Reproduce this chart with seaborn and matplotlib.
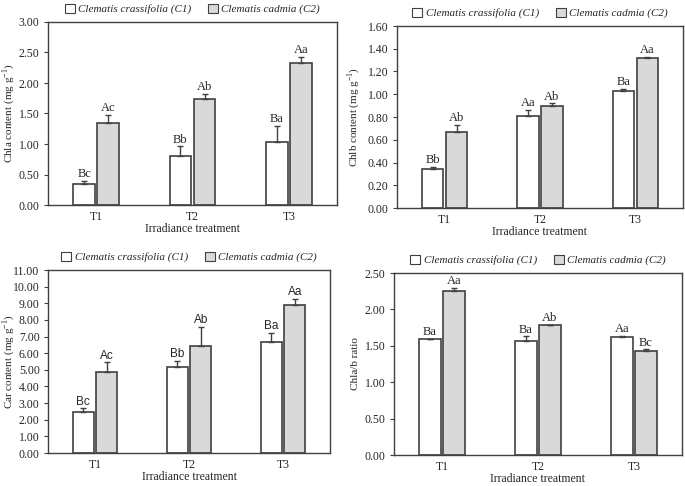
import pandas as pd
import numpy as np
import seaborn as sns
from matplotlib import pyplot as plt
from matplotlib.patches import Patch
from matplotlib.ticker import FormatStrFormatter

# Treatments and species
treatments = ['T1', 'T2', 'T3']
species = ['Clematis crassifolia (C1)', 'Clematis cadmia (C2)']

# Chla content (mg g-1)
chla_c1 = [0.35, 0.81, 1.03]
chla_c2 = [1.35, 1.73, 2.33]
chla_err_c1 = [0.05, 0.15, 0.27]
chla_err_c2 = [0.13, 0.09, 0.10]
chla_let_c1 = ['Bc', 'Bb', 'Ba']
chla_let_c2 = ['Ac', 'Ab', 'Aa']

# Chlb content (mg g-1)
chlb_c1 = [0.34, 0.81, 1.03]
chlb_c2 = [0.67, 0.90, 1.32]
chlb_err_c1 = [0.02, 0.05, 0.02]
chlb_err_c2 = [0.06, 0.02, 0.01]
chlb_let_c1 = ['Bb', 'Aa', 'Ba']
chlb_let_c2 = ['Ab', 'Ab', 'Aa']

# Car content (mg g-1)
car_c1 = [2.49, 5.15, 6.67]
car_c2 = [4.85, 6.42, 8.88]
car_err_c1 = [0.20, 0.40, 0.55]
car_err_c2 = [0.60, 1.15, 0.40]
car_let_c1 = ['Bc', 'Bb', 'Ba']
car_let_c2 = ['Ac', 'Ab', 'Aa']

# Chla/b ratio
ratio_c1 = [1.59, 1.57, 1.62]
ratio_c2 = [2.25, 1.78, 1.43]
ratio_err_c1 = [0.01, 0.06, 0.02]
ratio_err_c2 = [0.05, 0.01, 0.02]
ratio_let_c1 = ['Ba', 'Ba', 'Aa']
ratio_let_c2 = ['Aa', 'Ab', 'Bc']

sns.set_style('white')
plt.rcParams['font.family'] = ['Liberation Serif', 'DejaVu Serif']
plt.rcParams['mathtext.fontset'] = 'custom'
plt.rcParams['mathtext.rm'] = 'Liberation Serif'

W, H = 685, 486
fig = plt.figure(figsize=(W / 100, H / 100), dpi=100)

edge = '#404040'
colors = ['white', '#d9d9d9']


def px_axes(x0, y0, x1, y1):
    return fig.add_axes([x0 / W, 1 - y1 / H, (x1 - x0) / W, (y1 - y0) / H])


def panel(ax, box, c1, c2, e1, e2, l1, l2, ylim, step, ylabel, label_x,
          letter_font=None, xpad=0.5):
    df = pd.DataFrame({
        'treatment': treatments * 2,
        'species': [species[0]] * 3 + [species[1]] * 3,
        'value': c1 + c2,
    })
    sns.barplot(data=df, x='treatment', y='value', hue='species', ax=ax,
                palette=colors, edgecolor=edge, linewidth=1.2,
                width=0.5, gap=0.1, errorbar=None, legend=False)
    for cont, err, lets in zip(ax.containers, [e1, e2], [l1, l2]):
        xs = [b.get_x() + b.get_width() / 2 for b in cont]
        ys = [b.get_height() for b in cont]
        ax.errorbar(xs, ys, yerr=[np.zeros(3), err], fmt='none',
                    ecolor=edge, elinewidth=1, capsize=2.5, capthick=1)
        for x, y, e, t in zip(xs, ys, err, lets):
            kw = dict(ha='center', va='bottom', fontsize=9)
            if letter_font:
                kw['family'] = letter_font
                kw['fontsize'] = 8.5
            ax.text(x, y + e + ylim * 0.004, t, **kw)
    ax.set_xlim(-0.5, 2.5)
    ax.set_ylim(0, ylim)
    ax.set_yticks(np.arange(0, ylim + step / 2, step))
    ax.yaxis.set_major_formatter(FormatStrFormatter('%.2f'))
    ax.set_ylabel(ylabel, fontsize=8)
    ax.yaxis.set_label_coords((label_x - box[0]) / (box[2] - box[0]), 0.5)
    ax.set_xlabel('Irradiance treatment', fontsize=8.5, labelpad=xpad)
    ax.tick_params(axis='x', direction='in', length=3, width=0.8, color=edge,
                   labelsize=8.5, pad=4)
    ax.tick_params(axis='y', direction='out', length=3, width=0.8, color=edge,
                   labelsize=8.5, left=True, pad=3)
    for s in ax.spines.values():
        s.set_color(edge)
        s.set_linewidth(1)
    handles = [Patch(facecolor=c, edgecolor=edge, linewidth=0.8) for c in colors]
    ax.legend(handles, species, loc='lower center', bbox_to_anchor=(0.5, 1.0),
              ncol=2, frameon=False, prop={'style': 'italic', 'size': 8},
              handlelength=0.9, handleheight=0.9, handletextpad=0.3,
              columnspacing=1.5, borderaxespad=0.3)


box1 = (48, 22, 337, 205)
ax1 = px_axes(*box1)
panel(ax1, box1, chla_c1, chla_c2, chla_err_c1, chla_err_c2, chla_let_c1,
      chla_let_c2, 3.0, 0.5, 'Chla content (mg g$^{-1}$)', 17)

box2 = (397, 26, 683, 208)
ax2 = px_axes(*box2)
panel(ax2, box2, chlb_c1, chlb_c2, chlb_err_c1, chlb_err_c2, chlb_let_c1,
      chlb_let_c2, 1.6, 0.2, 'Chlb content (mg g$^{-1}$)', 362)

box3 = (48, 270, 330, 453)
ax3 = px_axes(*box3)
panel(ax3, box3, car_c1, car_c2, car_err_c1, car_err_c2, car_let_c1,
      car_let_c2, 11.0, 1.0, 'Car content (mg g$^{-1}$)', 17,
      letter_font='Liberation Sans')

box4 = (394, 273, 682, 455)
ax4 = px_axes(*box4)
panel(ax4, box4, ratio_c1, ratio_c2, ratio_err_c1, ratio_err_c2, ratio_let_c1,
      ratio_let_c2, 2.5, 0.5, 'Chla/b ratio', 360, xpad=0)

plt.savefig('out.png', dpi=100)
